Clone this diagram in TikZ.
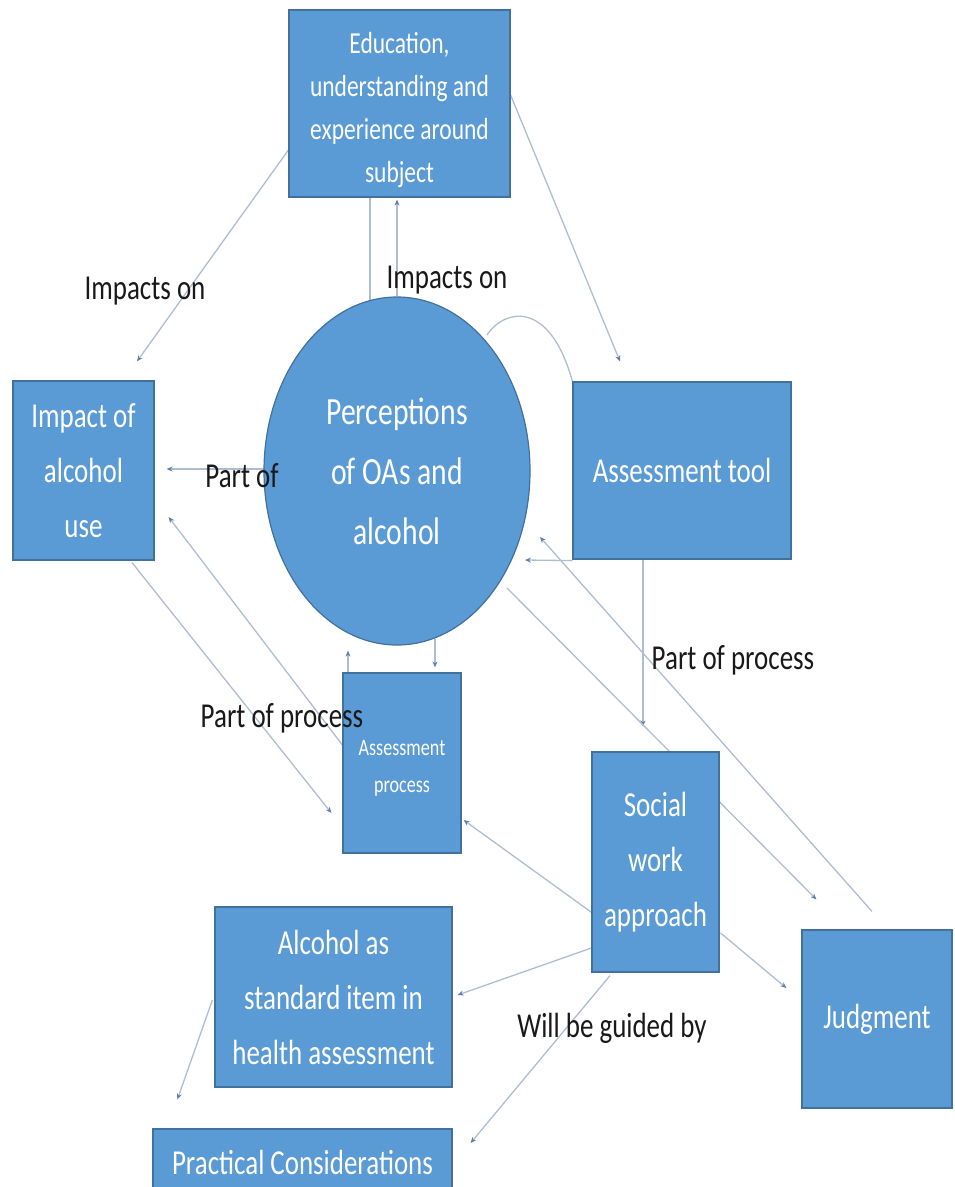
\documentclass[tikz,border=0pt]{standalone}
\usepackage{fontspec}
\setmainfont{Carlito}[FakeStretch=0.77]
\usetikzlibrary{shapes.geometric,arrows.meta,calc,backgrounds}
\definecolor{boxfill}{HTML}{5B9BD5}
\definecolor{boxline}{HTML}{41719C}
\definecolor{linkc}{HTML}{AEBDD0}
\definecolor{tipc}{HTML}{5E7FAE}
\begin{document}
\begin{tikzpicture}[x=1pt,y=-1pt,
  blk/.style={draw=boxline, line width=1.2pt, fill=boxfill, text=white, inner sep=0pt, align=center, font=\fontsize{35}{55}\selectfont},
  oval/.style={ellipse, draw=boxline, line width=1.2pt, fill=boxfill, text=white, inner sep=0pt, align=center, font=\fontsize{38.5}{60}\selectfont},
  link/.style={draw=linkc, line width=1.3pt, -{Stealth[length=6pt,width=5pt,color=tipc]}},
  plainlink/.style={draw=linkc, line width=1.3pt},
  lab/.style={text=black!90, inner sep=0pt, font=\fontsize{35}{42}\selectfont}]
\useasboundingbox (0,0) rectangle (954,1187);
\clip (0,0) rectangle (954,1187);

% nodes
\node[blk, minimum width=221pt, minimum height=187pt] (edu) at (399.5,103.5) {};
\node[text=white, inner sep=0pt, align=center, font=\fontsize{30.5}{43}\selectfont] (edutxt) at ($(edu.center)+(0,7)$) {Education,\\understanding and\\experience around\\subject};
\node[blk, minimum width=141pt, minimum height=179pt] (imp) at (83.5,470.5) {Impact of\\alcohol\\use};
\node[oval, minimum width=266pt, minimum height=348pt] (circ) at (397,471) {Perceptions\\of OAs and\\alcohol};
\node[blk, minimum width=218pt, minimum height=177pt] (tool) at (682,470.5) {Assessment tool};
\node[blk, minimum width=118pt, minimum height=180pt] (proc) at (402,763) {};
\node[text=white, inner sep=0pt, align=center, font=\fontsize{23.5}{37}\selectfont] (proctxt) at ($(proc.center)+(0,5)$) {Assessment\\process};
\node[blk, minimum width=127pt, minimum height=220pt] (swa) at (655.5,862) {Social\\work\\approach};
\node[blk, minimum width=150pt, minimum height=178pt] (judg) at (877,1019) {Judgment};
\node[blk, minimum width=237pt, minimum height=180pt] (alc) at (333.5,997) {Alcohol as\\standard item in\\health assessment};
\node[blk, minimum width=299pt, minimum height=66pt] (prac) at (302.5,1162) {Practical Considerations};

% connectors
\begin{pgfonlayer}{background}
\draw[link] ($(edu.west)+(0,46.5)$) -- ($(imp.north)+(53.5,-19)$);
\draw[plainlink] ($(edu.south)+(-29.5,0)$) -- ($(circ.north)+(-27,6)$);
\draw[link] (circ.north) -- ($(edu.south)+(-2.5,2)$);
\draw[link] ($(edu.east)+(0,-8.5)$) -- ($(tool.north)+(-62,-20)$);
\draw[plainlink] ($(circ.center)+(90,-136)$) .. controls ($(circ.center)+(108,-163)$) and ($(circ.center)+(153,-171)$) .. (tool.north west);
\draw[link] ($(circ.west)+(1,-2)$) -- ($(imp.east)+(12,-1.5)$);
\draw[link] ($(proc.west)+(0,-18)$) -- ($(imp.east)+(14,46.5)$);
\draw[link] ($(imp.south)+(48.5,2)$) -- ($(proc.west)+(-11,50)$);
\draw[link] ($(proc.north)+(-54,0)$) -- ($(circ.south)+(-49,5)$);
\draw[link] ($(circ.south)+(38,-7)$) -- ($(proc.north)+(33,-5)$);
\draw[link] ($(swa.west)+(1,51)$) -- ($(proc.east)+(2,57)$);
\draw[link] ($(tool.south)+(-39,0)$) -- ($(swa.north)+(-12.5,-25)$);
\draw[link] ($(tool.south west)+(0,1)$) -- ($(circ.center)+(128,89)$);
\draw[link] ($(judg.north)+(-5,-18)$) -- ($(circ.center)+(143,66)$);
\draw[link] ($(circ.center)+(110,117)$) -- ($(judg.north west)+(15,-30)$);
\draw[link] ($(swa.east)+(1,71)$) -- ($(judg.west)+(-15,-31)$);
\draw[link] ($(swa.west)+(0,86)$) -- ($(alc.east)+(5,-2)$);
\draw[link] ($(swa.south)+(-45.5,3)$) -- ($(prac.east)+(18,-19)$);
\draw[link] ($(alc.west)+(-2,3)$) -- ($(prac.north west)+(25,-29)$);
\end{pgfonlayer}

% labels
\node[lab] (l1) at (145,291) {Impacts on};
\node[lab] (l2) at (447,280) {Impacts on};
\node[lab] (l3) at (242,476) {Part of};
\node[lab] (l4) at (282,718) {Part of process};
\node[lab] (l5) at (733,660) {Part of process};
\node[lab] (l6) at (612,1028) {Will be guided by};
\end{tikzpicture}
\end{document}
